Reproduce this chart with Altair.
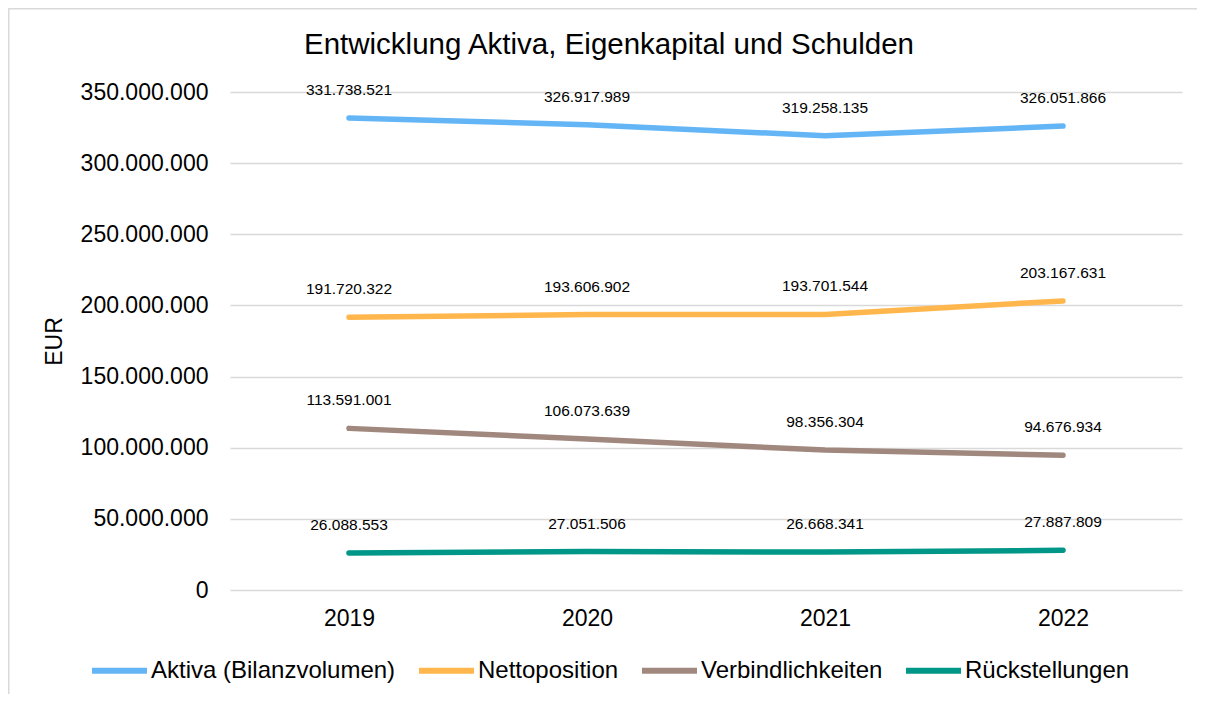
import altair as alt
import pandas as pd

years = ["2019", "2020", "2021", "2022"]
series_names = ["Aktiva (Bilanzvolumen)", "Nettoposition", "Verbindlichkeiten", "Rückstellungen"]
aktiva = [331738521, 326917989, 319258135, 326051866]
netto = [191720322, 193606902, 193701544, 203167631]
verb = [113591001, 106073639, 98356304, 94676934]
rueck = [26088553, 27051506, 26668341, 27887809]
colors = ["#64B5F6", "#FFB74D", "#A1887F", "#009688"]
y_ticks = [0, 50000000, 100000000, 150000000, 200000000, 250000000, 300000000, 350000000]

rows = []
for name, vals in zip(series_names, [aktiva, netto, verb, rueck]):
    for y, v in zip(years, vals):
        rows.append({"Jahr": y, "Serie": name, "Wert": v})
df = pd.DataFrame(rows)

FONT = "Liberation Sans"
dotfmt = "replace(format(datum.value, ',d'), regexp(',', 'g'), '.')"

x_enc = alt.X("Jahr:O", scale=alt.Scale(type="point", padding=0.5),
              axis=alt.Axis(title=None, labelAngle=0, domain=False, ticks=False, tickSize=0,
                            labelFontSize=23, labelPadding=17, labelColor="#000000", grid=False))
y_enc = alt.Y("Wert:Q", scale=alt.Scale(domain=[0, 350000000], nice=False, zero=True),
              axis=alt.Axis(title="EUR", values=y_ticks, labelExpr=dotfmt, domain=False, ticks=False,
                            tickSize=0, labelFontSize=23, labelPadding=22, labelColor="#000000",
                            titleFontSize=23, titleFontWeight="normal", titleColor="#000000",
                            titlePadding=14, gridColor="#d9d9d9", gridWidth=1.5))
color_enc = alt.Color("Serie:N", scale=alt.Scale(domain=series_names, range=colors),
                      legend=alt.Legend(title=None, orient="none", direction="horizontal",
                                        legendX=-141, legendY=548, symbolType="stroke",
                                        symbolStrokeWidth=6, symbolSize=3025, labelFontSize=24,
                                        labelOffset=1, columnPadding=11, labelColor="#000000",
                                        labelLimit=400))

base = alt.Chart(df)

border = alt.Chart(pd.DataFrame({"b": [0]})).mark_rect(
    filled=False, stroke="#d9d9d9", strokeWidth=1.5, clip=False
).encode(x=alt.value(-221.25), x2=alt.value(1000), y=alt.value(-83.25), y2=alt.value(700))

lines = base.mark_line(strokeWidth=5.5, strokeCap="round", strokeJoin="round").encode(
    x=x_enc, y=y_enc, color=color_enc, order=alt.Order("Jahr:O")
)

labels = base.transform_calculate(
    label="replace(format(datum.Wert, ',d'), regexp(',', 'g'), '.')"
).mark_text(dy=-28, fontSize=15.5, color="#000000", align="center", baseline="middle").encode(
    x="Jahr:O", y="Wert:Q", text="label:N"
)

chart = alt.layer(border, lines, labels).properties(
    width=952, height=498,
    title=alt.TitleParams("Entwicklung Aktiva, Eigenkapital und Schulden", fontSize=29.5,
                          fontWeight="normal", color="#000000", anchor="middle", dx=-97, offset=-52),
    padding={"left": 222, "top": 84, "right": 15, "bottom": 104},
    autosize=alt.AutoSizeParams(type="none")
).configure(font=FONT).configure_view(stroke=None)

chart.save("out.html", embed_options={"renderer": "svg", "actions": False})
